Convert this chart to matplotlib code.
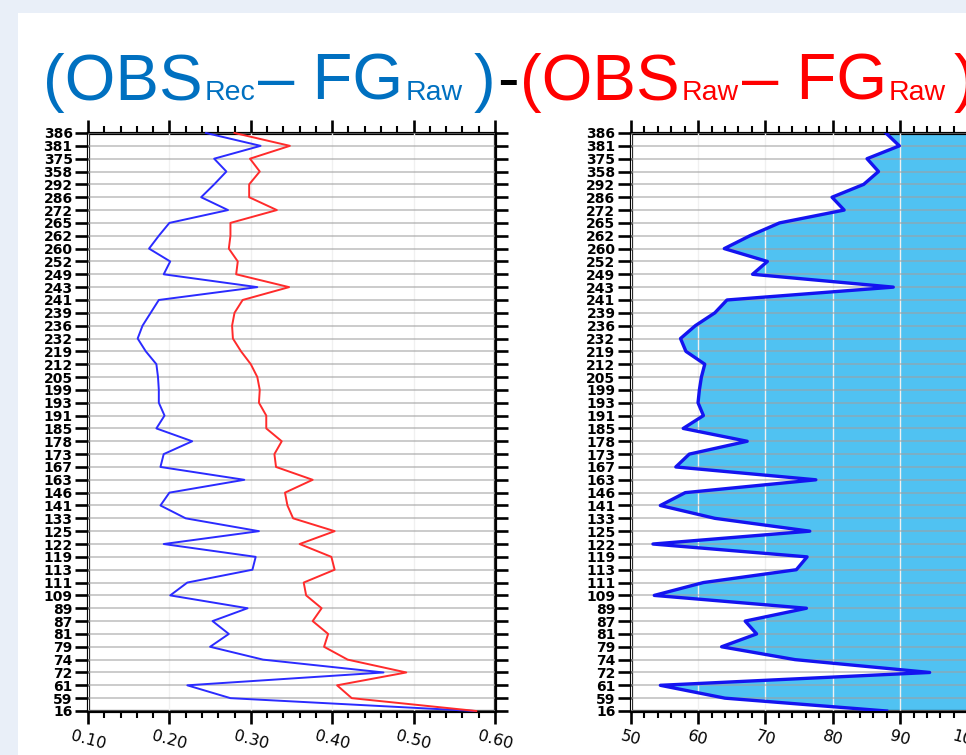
import matplotlib
matplotlib.use('Agg')
import matplotlib.pyplot as plt
from matplotlib.patches import Rectangle
from matplotlib.ticker import MultipleLocator

# ---------------- data ----------------
channels = ['386', '381', '375', '358', '292', '286', '272', '265', '262', '260',
            '252', '249', '243', '241', '239', '236', '232', '219', '212', '205',
            '199', '193', '191', '185', '178', '173', '167', '163', '146', '141',
            '133', '125', '122', '119', '113', '111', '109', '89', '87', '81',
            '79', '74', '72', '61', '59', '16']

rec_minus_fg = [0.245, 0.312, 0.255, 0.270, 0.255, 0.239, 0.272, 0.200, 0.187, 0.175,
                0.201, 0.193, 0.308, 0.187, 0.177, 0.167, 0.161, 0.171, 0.184, 0.186,
                0.187, 0.187, 0.194, 0.184, 0.228, 0.193, 0.189, 0.292, 0.200, 0.189,
                0.220, 0.310, 0.193, 0.306, 0.302, 0.222, 0.201, 0.296, 0.253, 0.273,
                0.250, 0.315, 0.463, 0.222, 0.275, 0.575]

raw_minus_fg = [0.280, 0.348, 0.299, 0.311, 0.298, 0.298, 0.332, 0.275, 0.275, 0.273,
                0.284, 0.282, 0.347, 0.290, 0.280, 0.277, 0.278, 0.288, 0.300, 0.308,
                0.311, 0.310, 0.319, 0.319, 0.338, 0.329, 0.331, 0.376, 0.342, 0.345,
                0.352, 0.403, 0.360, 0.399, 0.403, 0.365, 0.368, 0.387, 0.376, 0.395,
                0.390, 0.419, 0.491, 0.406, 0.424, 0.577]

ratio_pct = [87.9, 89.9, 85.1, 86.8, 84.6, 79.9, 81.7, 72.1, 67.7, 63.9,
             70.3, 68.1, 89.0, 64.3, 62.5, 59.6, 57.4, 58.2, 61.0, 60.5,
             60.2, 60.0, 60.8, 57.8, 67.3, 58.7, 56.7, 77.5, 58.1, 54.4,
             62.5, 76.6, 53.3, 76.2, 74.6, 60.8, 53.5, 76.1, 67.0, 68.7,
             63.5, 74.4, 94.4, 54.4, 64.0, 88.0]

left_xticks = [0.10, 0.20, 0.30, 0.40, 0.50, 0.60]
left_xticklabels = ['0.10', '0.20', '0.30', '0.40', '0.50', '0.60']
right_xticks = [50, 60, 70, 80, 90, 100]
right_xticklabels = ['50', '60', '70', '80', '90', '100']

# ---------------- figure ----------------
W, H = 966, 755
fig = plt.figure(figsize=(W / 100, H / 100), dpi=100, facecolor='#e9eff8')
fig.add_artist(Rectangle((18 / W, 0), 1, 1 - 13 / H, transform=fig.transFigure,
                         facecolor='white', edgecolor='none', zorder=-5))

n = len(channels)
ypos = list(range(n - 1, -1, -1))

ax1 = fig.add_axes([88 / W, 44 / H, 407 / W, 578 / H])
ax2 = fig.add_axes([630.7 / W, 44 / H, 404 / W, 578 / H])


def style(ax, xlim, xticks, xlabels, minor_step):
    ax.set_facecolor('white')
    ax.set_xlim(*xlim)
    ax.set_ylim(0, n - 1)
    ax.set_yticks(ypos)
    ax.set_yticklabels(channels, fontsize=10, fontweight='bold', family='DejaVu Sans')
    ax.set_xticks(xticks)
    ax.set_xticklabels(xlabels, rotation=-15, fontsize=11.5, family='DejaVu Sans')
    ax.xaxis.set_minor_locator(MultipleLocator(minor_step))
    ax.tick_params(axis='x', which='major', direction='out', length=9.5, width=1.9,
                   top=True, bottom=True, pad=3)
    ax.tick_params(axis='x', which='minor', direction='out', length=5, width=1.5,
                   top=True, bottom=True)
    ax.tick_params(axis='y', which='major', direction='out', length=9.5, width=1.9,
                   left=True, right=True, pad=1.5)
    for s in ax.spines.values():
        s.set_linewidth(2.3)
    ax.grid(axis='y', color='#a0a0a0', alpha=0.55, lw=1.4)
    ax.grid(axis='x', color='#f0f0f0', lw=1.0)
    ax.set_axisbelow(False)


style(ax1, (0.10, 0.60), left_xticks, left_xticklabels, 0.02)
style(ax2, (50, 110), right_xticks, right_xticklabels, 2)

ax1.plot(rec_minus_fg, ypos, color='#2b2bff', lw=1.4, zorder=3, clip_on=False)
ax1.plot(raw_minus_fg, ypos, color='#ff2b2b', lw=1.4, zorder=3, clip_on=False)

ax2.fill_betweenx(ypos, ratio_pct, 110, color='#50c2f2', lw=0, zorder=1)
ax2.plot(ratio_pct, ypos, color='#1414f0', lw=2.4, zorder=3)

# ---------------- title ----------------
blue = '#0070c0'
red = '#ff0000'
pieces = [
    ('(OBS', blue, 47, 2),
    ('Rec', blue, 20.5, 3),
    ('\u2013 FG', blue, 47, 2),
    ('Raw', blue, 20.5, 11),
    (')', blue, 47, 2),
    ('-', 'black', 47, 1),
    ('(OBS', red, 47, 2),
    ('Raw', red, 20.5, 3),
    ('\u2013 FG', red, 47, 2),
    ('Raw', red, 20.5, 8),
    (')', red, 47, 0),
]
fig.canvas.draw()
renderer = fig.canvas.get_renderer()
x_px = 43
baseline = 1 - 100 / H
for txt, col, size, gap in pieces:
    t = fig.text(x_px / W, baseline, txt, color=col, fontsize=size,
                 family='Liberation Sans', ha='left', va='baseline')
    bb = t.get_window_extent(renderer)
    x_px = bb.x1 + gap

fig.savefig('out.png', dpi=100, facecolor=fig.get_facecolor())
